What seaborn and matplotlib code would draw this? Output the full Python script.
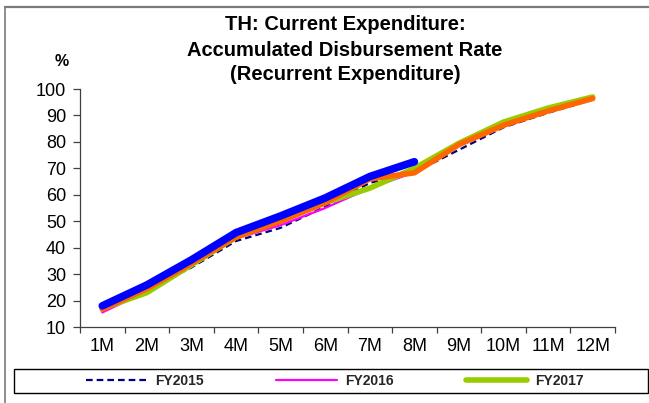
import numpy as np
import pandas as pd
import matplotlib
matplotlib.use("Agg")
import matplotlib.pyplot as plt
from matplotlib.lines import Line2D
from matplotlib.patches import Rectangle
import seaborn as sns

# Accumulated disbursement rate (%) by month of the fiscal year
months = ["1M", "2M", "3M", "4M", "5M", "6M", "7M", "8M", "9M", "10M", "11M", "12M"]
fy2015 = [16.5, 24.0, 32.5, 42.5, 47.5, 55.5, 64.5, 68.5, 77.0, 85.5, 91.0, 96.0]
fy2016 = [15.5, 23.5, 33.0, 43.5, 48.5, 55.0, 62.5, 68.5, 78.5, 86.0, 91.5, 96.5]
fy2017 = [17.0, 23.0, 33.5, 44.0, 50.5, 57.0, 62.5, 70.0, 79.5, 87.5, 92.8, 97.0]
fy2018 = [16.7, 24.5, 34.0, 44.0, 50.0, 57.0, 66.0, 68.3, 79.0, 86.3, 91.7, 96.4]
fy2019 = [18.0, 25.9, 35.4, 45.7, 52.0, 58.8, 66.9, 72.5]
y_ticks = [10, 20, 30, 40, 50, 60, 70, 80, 90, 100]

series = {
    "FY2015": fy2015,
    "FY2016": fy2016,
    "FY2017": fy2017,
    "FY2018": fy2018,
    "FY2019": fy2019,
}
styles = {
    "FY2015": dict(color="#000080", lw=1.6, ls=(0, (3, 1.8))),
    "FY2016": dict(color="#ff00ff", lw=1.6, ls="-"),
    "FY2017": dict(color="#99cc00", lw=4.0, ls="-"),
    "FY2018": dict(color="#ff6600", lw=4.0, ls="-"),
    "FY2019": dict(color="#0000ff", lw=5.5, ls="-"),
}

rows = []
for name, vals in series.items():
    for i, v in enumerate(vals):
        rows.append({"series": name, "pos": i, "month": months[i], "value": v})
df = pd.DataFrame(rows)

sns.set_theme(style="white")
plt.rcParams["font.family"] = ["Liberation Sans", "DejaVu Sans"]

fig = plt.figure(figsize=(6.49, 4.03), dpi=100)
ax = fig.add_axes([80 / 649, 1 - 327 / 403, (615 - 80) / 649, (327 - 89) / 403])

for name in series:
    sub = df[df["series"] == name]
    st = styles[name]
    sns.lineplot(data=sub, x="pos", y="value", ax=ax, sort=False,
                 color=st["color"], linewidth=st["lw"], linestyle=st["ls"],
                 solid_capstyle="round", legend=False)

ax.set_xlim(-0.5, len(months) - 0.5)
ax.set_ylim(10, 100)
ax.set_yticks(y_ticks)
ax.set_xticks(np.arange(len(months)))
ax.set_xticklabels(months)
ax.set_xticks(np.arange(len(months) + 1) - 0.5, minor=True)
ax.set_xlabel("")
ax.set_ylabel("")

for side in ("top", "right"):
    ax.spines[side].set_visible(False)
for side in ("left", "bottom"):
    ax.spines[side].set_color("#404040")
    ax.spines[side].set_linewidth(0.9)

ax.tick_params(axis="x", which="major", length=0, pad=8, labelsize=13, colors="black")
ax.tick_params(axis="x", which="minor", length=4, width=0.9, color="#404040", bottom=True)
ax.tick_params(axis="y", length=5, width=0.9, color="#404040", left=True, pad=5,
               labelsize=13, labelcolor="black")

# Title and unit label
title_lines = ["TH: Current Expenditure:", "Accumulated Disbursement Rate",
               "(Recurrent Expenditure)"]
for line, ypx in zip(title_lines, [24, 50, 75]):
    fig.text(345 / 649, 1 - ypx / 403, line, ha="center", va="center",
             fontsize=14.5, fontweight="bold", color="black")
fig.text(62 / 649, 1 - 62 / 403, "%", ha="center", va="center",
         fontsize=11.5, fontweight="bold", color="black")

# Outer frame (top and left edges)
fig.add_artist(Line2D([5 / 649, 1], [1 - 7 / 403, 1 - 7 / 403],
                      transform=fig.transFigure, color="#7a7a7a", lw=1.6))
fig.add_artist(Line2D([5 / 649, 5 / 649], [0, 1 - 7 / 403],
                      transform=fig.transFigure, color="#7a7a7a", lw=1.2))

# Legend box along the bottom
fig.add_artist(Rectangle((14.5 / 649, 1 - 393 / 403), (648 - 14.5) / 649, 24 / 403,
                         transform=fig.transFigure, fill=False, edgecolor="black", lw=1.0))
handles = [Line2D([], [], color=styles[n]["color"], lw=styles[n]["lw"],
                  ls=styles[n]["ls"]) for n in ["FY2015", "FY2016", "FY2017"]]
fig.legend(handles, ["FY2015", "FY2016", "FY2017"], loc="center left",
           bbox_to_anchor=(86 / 649, 1 - 381 / 403), ncol=3, frameon=False,
           borderpad=0, borderaxespad=0, handlelength=4.4, handletextpad=0.58,
           columnspacing=5.2, prop={"weight": "bold", "size": 10})

fig.savefig("out.png", dpi=100, facecolor="white")
